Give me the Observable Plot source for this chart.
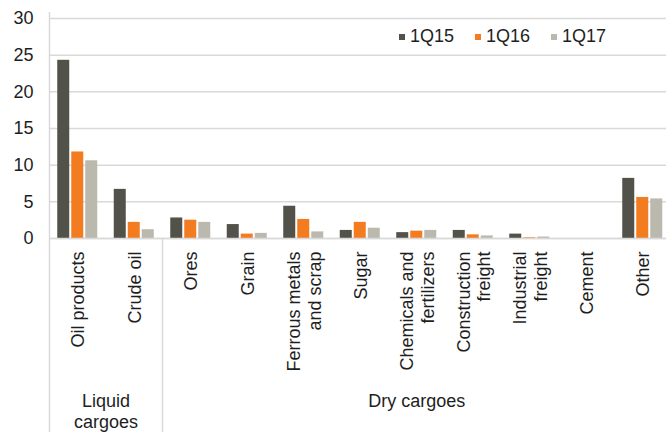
<!DOCTYPE html>
<html><head><meta charset="utf-8">
<script src="https://cdn.jsdelivr.net/npm/d3@7"></script>
<script src="https://cdn.jsdelivr.net/npm/@observablehq/plot@0.6"></script>
<style>
body{margin:0;background:#fff;}
#chart{position:relative;width:666px;height:432px;overflow:hidden;font-family:"Liberation Sans",Arial,sans-serif;}
#legend{position:absolute;left:399px;top:26px;}
.lg-swatches{font-family:"Liberation Sans",Arial,sans-serif!important;font-size:18px!important;color:#1e1e1e;margin:0!important;}
.lg-swatches-wrap{min-height:0!important;}
.lg-swatch{margin-right:21px!important;}
.lg-swatch>svg{margin-right:5px!important;}
</style></head>
<body><div id="chart"><div id="legend"></div></div>
<script>
const categories = ["Oil products","Crude oil","Ores","Grain","Ferrous metals\nand scrap","Sugar","Chemicals and\nfertilizers","Construction\nfreight","Industrial\nfreight","Cement","Other"];
const series = ["1Q15","1Q16","1Q17"];
const values1Q15 = [24.3,6.7,2.8,1.9,4.4,1.1,0.8,1.1,0.6,0,8.2];
const values1Q16 = [11.8,2.2,2.5,0.6,2.6,2.2,1.0,0.5,0.1,0,5.6];
const values1Q17 = [10.6,1.2,2.2,0.7,0.9,1.4,1.1,0.35,0.2,0,5.4];
const groupNames = ["Liquid\ncargoes","Dry cargoes"];
const groupSizes = [2,9];
const yTicks = [0,5,10,15,20,25,30];
const colors = ["#52524a","#f47c20","#bbb8ae"];

const seriesValues = [values1Q15, values1Q16, values1Q17];
const rows = series.flatMap((s, k) => categories.map((c, i) => ({category: c, i, series: s, value: seriesValues[k][i]})));
const catRows = categories.map((c, i) => ({name: c, i}));
let acc = 0;
const groupRows = groupNames.map((g, j) => { const start = acc; acc += groupSizes[j]; return {name: g, start, end: acc}; });

const sub = d3.scaleBand().domain(series).range([0, 1]).paddingInner(0.143).paddingOuter(0.589);
const W = 666, H = 432, MB = 194, MT = 18;
const grey = "#d9d9d9";
const ink = "#1e1e1e";
const font = "Liberation Sans, Arial, sans-serif";

const chart = Plot.plot({
  width: W, height: H,
  marginLeft: 49, marginRight: -4.5, marginTop: MT, marginBottom: MB,
  style: {fontFamily: font, color: ink, background: "#fff", overflow: "visible"},
  x: {domain: [0, categories.length], axis: null},
  y: {domain: [0, 30]},
  color: {domain: series, range: colors},
  marks: [
    Plot.gridY(yTicks, {stroke: grey, strokeOpacity: 1, strokeWidth: 1.5}),
    Plot.rect(rows, {x1: d => d.i + sub(d.series), x2: d => d.i + sub(d.series) + sub.bandwidth(), y1: 0, y2: "value", fill: "series"}),
    Plot.ruleY([0], {stroke: grey, strokeWidth: 1.5}),
    Plot.ruleX([0], {stroke: grey, strokeWidth: 1.5, insetTop: -6, insetBottom: -MB}),
    Plot.ruleX(groupRows.map(g => g.end), {stroke: grey, strokeWidth: 1.5, y1: 0, insetBottom: -MB}),
    Plot.axisY(yTicks, {tickSize: 0, tickPadding: 16, fontSize: 18, label: null, fill: ink}),
    Plot.text(catRows, {x: d => d.i + 0.5, text: "name", frameAnchor: "bottom", dy: 13, rotate: -90, textAnchor: "end", lineAnchor: "middle", lineHeight: 1.15, fontSize: 18, fill: ink}),
    Plot.text(groupRows, {x: d => (d.start + d.end) / 2, text: "name", frameAnchor: "bottom", dy: 153, lineAnchor: "top", lineHeight: 1.2, fontSize: 18, fill: ink})
  ]
});
const chartDiv = document.getElementById("chart");
chartDiv.insertBefore(chart, chartDiv.firstChild);

const legend = Plot.legend({legend: "swatches", color: {type: "ordinal", domain: series, range: colors}, swatchSize: 6, className: "lg"});
document.getElementById("legend").appendChild(legend);
</script>
</body></html>
